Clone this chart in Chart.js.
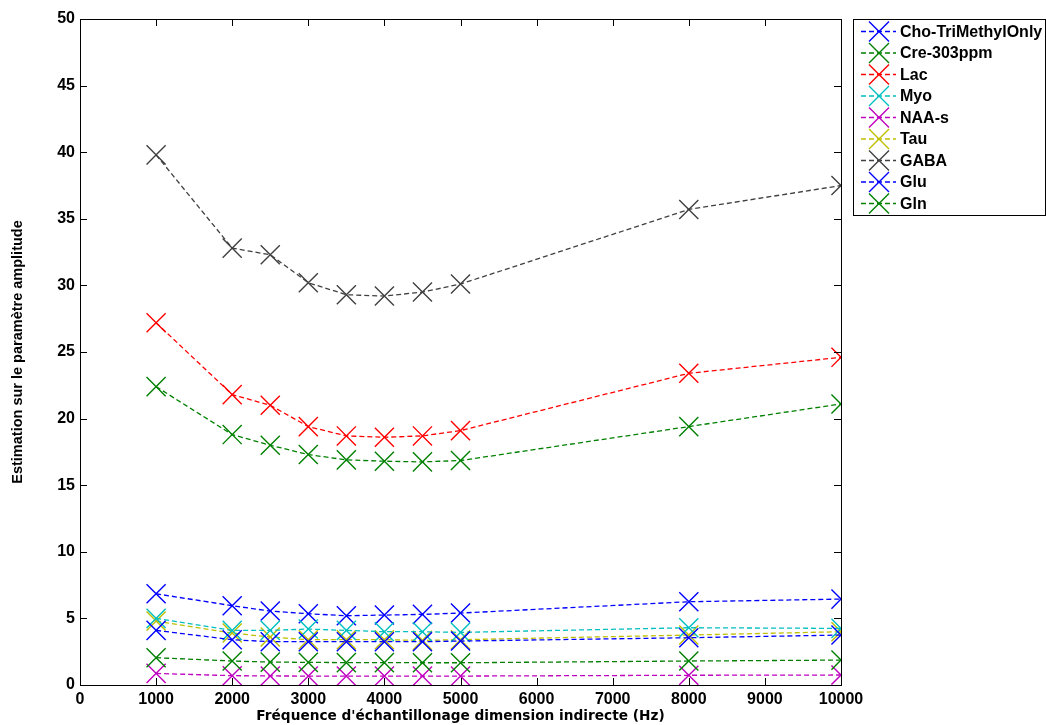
<!DOCTYPE html>
<html>
<head>
<meta charset="utf-8">
<script src="https://cdn.jsdelivr.net/npm/chart.js@4.4.1/dist/chart.umd.min.js"></script>
<style>
  html, body { margin: 0; padding: 0; background: #fff; }
  #wrap { width: 1046px; height: 725px; position: relative; }
</style>
</head>
<body>
<div id="wrap"><canvas id="myChart" width="1046" height="725"></canvas></div>
<script>
// frequences (Hz)
let frequences = [1000, 2000, 2500, 3000, 3500, 4000, 4500, 5000, 8000, 10000];

let noms = ['Cho-TriMethylOnly', 'Cre-303ppm', 'Lac', 'Myo', 'NAA-s', 'Tau', 'GABA', 'Glu', 'Gln'];
let couleurs = ['#0000ff', '#008000', '#ff0000', '#00bfbf', '#bf00bf', '#bfbf00', '#404040', '#0000ff', '#008000'];

let cho  = [4.1, 3.4, 3.25, 3.25, 3.25, 3.25, 3.25, 3.3, 3.55, 3.75];
let cre  = [2.05, 1.8, 1.72, 1.7, 1.68, 1.68, 1.67, 1.67, 1.8, 1.87];
let lac  = [27.2, 21.8, 21.0, 19.4, 18.7, 18.6, 18.7, 19.1, 23.4, 24.6];
let myo  = [5.0, 4.1, 4.1, 4.2, 4.1, 4.0, 4.0, 3.95, 4.3, 4.25];
let naa  = [0.87, 0.7, 0.68, 0.67, 0.67, 0.67, 0.67, 0.67, 0.73, 0.75];
let tau  = [4.8, 3.9, 3.6, 3.4, 3.4, 3.4, 3.35, 3.4, 3.75, 4.0];
let gaba = [39.8, 32.8, 32.3, 30.2, 29.3, 29.2, 29.5, 30.1, 35.7, 37.5];
let glu  = [6.85, 5.95, 5.55, 5.35, 5.2, 5.25, 5.3, 5.4, 6.25, 6.45];
let gln  = [22.4, 18.8, 18.0, 17.3, 16.9, 16.8, 16.75, 16.85, 19.4, 21.1];

let series = [cho, cre, lac, myo, naa, tau, gaba, glu, gln];

let xTicks = [0, 1000, 2000, 3000, 4000, 5000, 6000, 7000, 8000, 9000, 10000];
let yTicks = [0, 5, 10, 15, 20, 25, 30, 35, 40, 45, 50];

let police = '"DejaVu Sans", sans-serif';
let policeLib = '"Liberation Sans", Arial, sans-serif';

let datasets = [];
for (let i = 0; i < series.length; i++) {
    let pts = [];
    for (let j = 0; j < frequences.length; j++) {
        pts.push({x: frequences[j], y: series[i][j]});
    }
    datasets.push({
        label: noms[i],
        data: pts,
        borderColor: couleurs[i],
        backgroundColor: couleurs[i],
        borderWidth: 1.3,
        borderDash: [5, 3],
        pointStyle: 'crossRot',
        pointRadius: 13.5,
        pointHoverRadius: 13.5,
        pointBorderWidth: 1.4,
        tension: 0
    });
}

// cadre, ticks internes et legende facon matlab
const cadreMatlab = {
    id: 'cadreMatlab',
    afterDraw(chart) {
        const ctx = chart.ctx;
        const a = chart.chartArea;
        const sx = chart.scales.x, sy = chart.scales.y;
        ctx.save();
        ctx.strokeStyle = '#000';
        ctx.lineWidth = 1;
        ctx.strokeRect(Math.round(a.left) + 0.5, Math.round(a.top) + 0.5, Math.round(a.right - a.left), Math.round(a.bottom - a.top));
        for (let v of xTicks) {
            let px = Math.round(sx.getPixelForValue(v)) + 0.5;
            ctx.beginPath();
            ctx.moveTo(px, a.bottom); ctx.lineTo(px, a.bottom - 7);
            ctx.moveTo(px, a.top); ctx.lineTo(px, a.top + 7);
            ctx.stroke();
        }
        for (let v of yTicks) {
            let py = Math.round(sy.getPixelForValue(v)) + 0.5;
            ctx.beginPath();
            ctx.moveTo(a.left, py); ctx.lineTo(a.left + 7, py);
            ctx.moveTo(a.right, py); ctx.lineTo(a.right - 7, py);
            ctx.stroke();
        }

        // legende
        let lx = 853, ly = 19, lw = 192, lh = 196;
        ctx.fillStyle = '#fff';
        ctx.fillRect(lx, ly, lw, lh);
        ctx.strokeRect(lx + 0.5, ly + 0.5, lw, lh);
        ctx.font = 'bold 16px ' + policeLib;
        ctx.textBaseline = 'middle';
        chart.data.datasets.forEach((ds, i) => {
            let yy = ly + 12.5 + i * 21.5;
            ctx.strokeStyle = ds.borderColor;
            ctx.lineWidth = 1.3;
            ctx.setLineDash([5, 3]);
            ctx.beginPath();
            ctx.moveTo(lx + 8, yy); ctx.lineTo(lx + 43, yy);
            ctx.stroke();
            ctx.setLineDash([]);
            ctx.lineWidth = 1.4;
            let cx = lx + 26, r = 10;
            ctx.beginPath();
            ctx.moveTo(cx - r, yy - r); ctx.lineTo(cx + r, yy + r);
            ctx.moveTo(cx - r, yy + r); ctx.lineTo(cx + r, yy - r);
            ctx.stroke();
            ctx.fillStyle = '#000';
            ctx.fillText(ds.label, lx + 47, yy + 1);
        });
        ctx.restore();
    }
};

const ctx = document.getElementById('myChart').getContext('2d');
const myChart = new Chart(ctx, {
    type: 'line',
    data: { datasets: datasets },
    options: {
        responsive: false,
        animation: false,
        events: [],
        layout: { padding: { top: 19, right: 205, left: 0, bottom: 0 } },
        plugins: {
            legend: { display: false },
            tooltip: { enabled: false }
        },
        scales: {
            x: {
                type: 'linear',
                min: 0,
                max: 10000,
                afterBuildTicks: (s) => { s.ticks = xTicks.map(v => ({value: v})); },
                afterFit: (s) => { s.height = 40; },
                grid: { display: false, drawTicks: false },
                border: { display: false },
                ticks: {
                    color: '#000',
                    padding: 5,
                    maxRotation: 0,
                    font: { family: policeLib, size: 16, weight: 'bold' },
                    callback: (v) => String(v)
                },
                title: {
                    display: true,
                    text: "Fréquence d'échantillonage dimension indirecte (Hz)",
                    color: '#000',
                    padding: { top: 0, bottom: 0 },
                    font: { family: police, size: 13.7, weight: 'bold' }
                }
            },
            y: {
                type: 'linear',
                min: 0,
                max: 50,
                afterBuildTicks: (s) => { s.ticks = yTicks.map(v => ({value: v})); },
                afterFit: (s) => { s.width = 80; },
                grid: { display: false, drawTicks: false },
                border: { display: false },
                ticks: {
                    color: '#000',
                    padding: 5,
                    font: { family: policeLib, size: 16, weight: 'bold' }
                },
                title: {
                    display: true,
                    text: 'Estimation sur le paramètre amplitude',
                    color: '#000',
                    padding: { top: 9, bottom: 10 },
                    font: { family: policeLib, size: 14.5, weight: 'bold' }
                }
            }
        }
    },
    plugins: [cadreMatlab]
});
</script>
</body>
</html>
